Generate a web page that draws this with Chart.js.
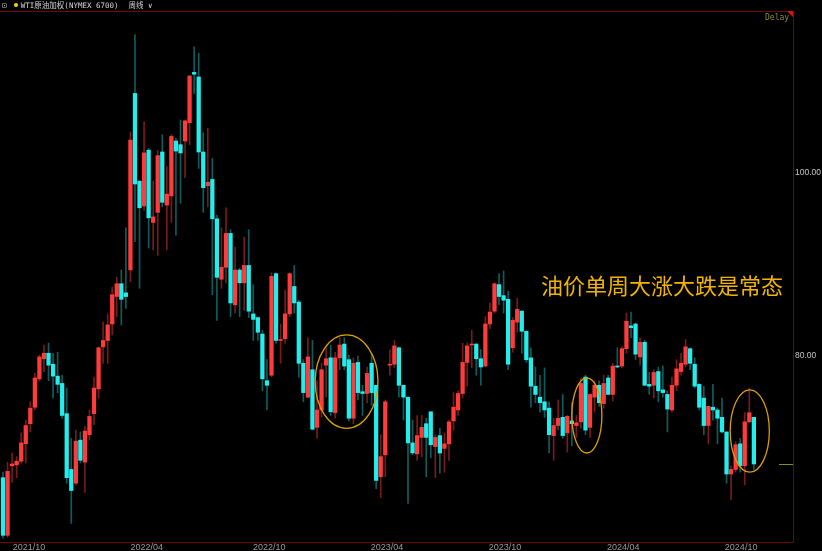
<!DOCTYPE html>
<html>
<head>
  <script src="https://cdn.jsdelivr.net/npm/chart.js@4.4.1/dist/chart.umd.min.js"></script>
  <style>
    body {
      margin: 0;
      background: #000;
    }
    .wrap {
      position: relative;
      width: 822px;
      height: 551px;
      background: #000;
      overflow: hidden;
    }
    .header {
      position: absolute;
      left: 2px;
      top: 0px;
      height: 11px;
      font-family: "DejaVu Sans Mono", "Noto Sans CJK SC", monospace;
      font-size: 7.5px;
      line-height: 11px;
      color: #d4d4d4;
      white-space: nowrap;
    }
    .header .icon { color: #bbb; margin-right: 7px; font-size: 8px; }
    .header .dot {
      display: inline-block;
      width: 4px;
      height: 4px;
      border-radius: 50%;
      background: #f2dc00;
      margin-right: 3px;
      vertical-align: 1px;
    }
    .header .period { margin-left: 10px; }
    .note {
      position: absolute;
      left: 541px;
      top: 272px;
      font-family: "Noto Sans CJK SC", sans-serif;
      font-size: 22px;
      line-height: 24px;
      color: #f2b400;
      white-space: nowrap;
    }
    .delay {
      position: absolute;
      left: 765px;
      top: 13px;
      font-family: "DejaVu Sans Mono", monospace;
      font-size: 8px;
      color: #8c8c2c;
    }
  </style>
</head>
<body>
  <div class="wrap">
    <canvas id="wtiChart"></canvas>
    <div class="header"><span class="icon">&#8865;</span><span class="dot"></span>WTI原油加权(NYMEX 6700)<span class="period">周线 &#8744;</span></div>
    <div class="delay">Delay</div>
    <div class="note">油价单周大涨大跌是常态</div>
  </div>

  <script>
    // weekly candles
    const weekOpen = [66.7, 60.4, 68.0, 68.1, 68.5, 70.4, 72.6, 74.4, 77.5, 79.7,
      80.3, 79.1, 77.8, 77.0, 73.7, 67.6, 66.1, 70.8, 68.4, 71.4,
      73.7, 76.4, 81.0, 81.7, 83.5, 86.5, 87.9, 86.9, 89.4, 108.7,
      99.1, 96.4, 102.5, 94.6, 95.7, 102.3, 96.5, 97.5, 103.5, 103.1,
      103.5, 105.5, 111.0, 110.5, 102.3, 98.6, 99.3, 95.0, 88.4, 89.7,
      93.4, 85.6, 89.4, 88.0, 89.9, 84.6, 84.2, 82.4, 77.3, 77.9,
      89.0, 81.7, 81.9, 84.6, 87.6, 85.9, 79.2, 75.5, 78.5, 72.2,
      74.1, 79.0, 79.8, 73.8, 79.8, 81.3, 79.6, 73.2, 79.3, 76.1,
      75.9, 79.2, 76.8, 66.8, 69.2, 79.0, 79.1, 80.9, 76.8, 75.5,
      70.5, 69.3, 71.1, 72.6, 73.9, 70.1, 71.3, 69.9, 70.4, 72.9,
      74.1, 75.9, 79.3, 81.2, 81.3, 79.7, 78.9, 83.5, 84.9, 87.8,
      86.6, 86.2, 80.9, 83.7, 84.9, 82.7, 79.8, 76.7, 75.5, 75.0,
      74.3, 71.3, 72.4, 73.3, 71.6, 72.9, 72.4, 72.8, 77.7, 72.2,
      75.5, 76.8, 74.8, 77.6, 75.8, 78.9, 78.9, 80.8, 83.3, 83.5,
      79.9, 81.5, 76.9, 76.8, 78.3, 76.3, 75.8, 74.1, 76.8, 78.3,
      79.1, 80.8, 79.1, 76.9, 75.4, 72.4, 74.4, 74.1, 73.3, 71.7,
      67.1, 67.6, 70.4, 68.0, 72.8, 73.3];
    const weekHigh = [67.3, 68.4, 69.4, 69.0, 71.6, 73.0, 75.0, 78.1, 80.1, 81.2,
      81.4, 80.3, 80.4, 77.9, 76.5, 71.0, 71.9, 71.7, 72.3, 74.1,
      77.7, 81.0, 83.7, 84.6, 87.5, 88.6, 89.4, 94.0, 104.5, 115.1,
      99.2, 105.6, 102.7, 99.1, 102.5, 104.2, 100.7, 104.2, 103.8, 105.8,
      105.8, 110.7, 113.8, 113.1, 104.4, 104.9, 101.6, 95.4, 94.0, 96.2,
      93.8, 91.9, 89.6, 93.0, 93.8, 87.8, 84.2, 82.8, 79.6, 89.1,
      89.1, 83.5, 87.2, 89.1, 89.9, 86.1, 79.6, 82.0, 81.7, 77.3,
      79.2, 80.9, 81.2, 80.4, 82.0, 82.0, 80.1, 79.8, 80.0, 76.8,
      78.8, 80.3, 76.8, 71.4, 75.2, 80.7, 81.7, 81.0, 76.8, 75.5,
      73.0, 73.5, 73.5, 73.2, 73.9, 71.4, 72.1, 71.6, 73.0, 76.0,
      76.2, 81.4, 81.4, 82.8, 81.4, 80.7, 84.3, 85.8, 88.0, 89.0,
      89.3, 87.1, 84.2, 86.3, 85.0, 82.8, 80.9, 78.8, 77.9, 78.7,
      75.0, 73.2, 75.2, 75.8, 73.5, 74.9, 73.5, 77.6, 77.9, 75.9,
      77.3, 77.3, 77.9, 77.9, 79.2, 80.9, 81.0, 84.7, 84.8, 83.6,
      82.0, 81.7, 78.2, 78.5, 78.8, 78.9, 76.2, 77.7, 79.6, 80.3,
      81.8, 80.9, 79.8, 77.0, 76.7, 74.5, 76.9, 74.3, 75.4, 71.7,
      68.0, 70.6, 71.0, 73.8, 76.5, 73.3];
    const weekLow = [60.1, 60.2, 66.2, 66.7, 68.3, 68.3, 71.7, 74.1, 77.3, 78.3,
      77.3, 75.4, 76.0, 73.2, 66.1, 61.7, 65.9, 68.3, 65.1, 70.8,
      72.5, 75.4, 79.2, 79.2, 82.3, 84.3, 83.4, 85.2, 88.1, 92.5,
      87.4, 95.9, 91.8, 91.6, 91.0, 96.3, 91.6, 94.6, 93.2, 96.7,
      99.5, 103.1, 108.7, 100.5, 95.7, 96.3, 86.7, 83.9, 87.4, 88.0,
      84.3, 84.7, 84.3, 85.0, 84.2, 81.7, 81.7, 76.2, 74.1, 77.7,
      81.4, 79.2, 81.4, 84.3, 84.7, 77.7, 75.0, 75.4, 71.9, 71.0,
      73.3, 75.5, 73.5, 73.2, 78.5, 78.5, 72.9, 72.6, 75.2, 73.5,
      74.9, 74.6, 65.5, 64.5, 66.8, 77.9, 78.7, 75.5, 73.0, 63.9,
      69.2, 68.6, 69.0, 66.8, 68.9, 66.7, 67.2, 67.3, 68.6, 71.9,
      73.5, 75.4, 76.7, 78.7, 77.9, 76.8, 78.8, 83.0, 84.7, 85.6,
      84.7, 78.5, 80.4, 82.6, 80.3, 79.3, 74.4, 74.9, 73.9, 73.3,
      69.4, 68.6, 71.9, 71.0, 69.5, 70.2, 71.1, 72.1, 71.4, 71.1,
      73.9, 74.5, 74.3, 75.8, 75.1, 78.7, 78.7, 80.3, 82.0, 79.6,
      79.0, 76.8, 75.8, 75.4, 75.0, 75.5, 71.7, 73.9, 76.2, 77.9,
      78.8, 78.5, 76.5, 74.1, 71.4, 70.4, 73.0, 70.4, 71.6, 66.1,
      64.3, 67.3, 67.3, 65.9, 72.7, 67.6];
    const weekClose = [60.4, 67.4, 68.2, 68.5, 70.5, 72.4, 74.3, 77.6, 79.9, 80.3,
      79.0, 77.8, 76.9, 73.5, 66.7, 65.3, 70.7, 68.6, 71.8, 73.4,
      76.5, 80.9, 81.7, 83.4, 86.7, 87.9, 86.2, 86.5, 103.6, 98.8,
      96.2, 102.2, 95.1, 95.2, 101.9, 96.8, 97.7, 104.0, 102.4, 102.2,
      105.7, 110.6, 110.8, 102.3, 98.4, 99.0, 95.0, 88.6, 89.7, 93.4,
      85.8, 89.4, 88.0, 89.9, 84.9, 84.0, 82.6, 77.5, 76.8, 88.7,
      81.7, 81.8, 84.6, 89.0, 85.8, 79.2, 76.0, 79.9, 72.0, 74.1,
      78.5, 79.7, 73.9, 79.8, 81.2, 78.9, 73.2, 79.2, 76.0, 75.9,
      78.1, 76.0, 66.4, 69.0, 75.0, 79.1, 81.1, 76.8, 75.5, 70.5,
      69.4, 71.3, 72.2, 71.1, 70.3, 71.1, 69.4, 70.4, 72.8, 74.4,
      75.9, 79.3, 81.1, 81.3, 79.7, 78.8, 83.5, 84.8, 87.9, 86.5,
      86.1, 79.1, 83.9, 85.1, 82.7, 79.6, 76.7, 75.8, 74.9, 74.1,
      71.4, 72.4, 73.2, 71.3, 73.4, 72.6, 72.7, 77.0, 71.9, 75.8,
      76.8, 74.9, 77.0, 75.8, 78.9, 78.8, 80.8, 83.8, 83.1, 80.2,
      81.5, 76.8, 76.7, 78.2, 76.2, 76.0, 74.2, 76.8, 78.6, 79.2,
      81.0, 79.2, 76.7, 74.4, 72.4, 74.5, 74.1, 73.2, 71.7, 67.1,
      67.6, 70.3, 68.0, 72.8, 73.8, 68.2];

    // x axis: label positions in week index
    const xTickWeeks = [5.7, 31.6, 58.5, 84.4, 110.3, 136.3, 162.2];
    const xTickLabels = ['2021/10', '2022/04', '2022/10', '2023/04', '2023/10', '2024/04', '2024/10'];
    const yTickValues = [80, 100];

    // circled weeks: [first week, last week, low price, high price]
    const circles = [
      [68.6, 82.4, 72.1, 82.3],
      [125.0, 131.6, 69.4, 77.6],
      [159.8, 168.4, 67.3, 76.3]
    ];

    const UP = '#ff3b3b', DOWN = '#22eeee';
    const UP_WICK = '#7a1a1a', DOWN_WICK = '#0c5e5e';
    const isUp = i => weekClose[i] >= weekOpen[i];

    const bodies = weekOpen.map((o, i) => ({x: i, y: [o, weekClose[i]]}));
    const wicks = weekOpen.map((o, i) => ({x: i, y: [weekLow[i], weekHigh[i]]}));

    const overlay = {
      id: 'overlay',
      afterDatasetsDraw(chart) {
        const {ctx, chartArea: a, scales: {x, y}} = chart;
        ctx.save();
        // circles
        ctx.strokeStyle = '#d9a000';
        ctx.lineWidth = 1.3;
        circles.forEach(([w0, w1, lo, hi]) => {
          const x0 = x.getPixelForValue(w0), x1 = x.getPixelForValue(w1);
          const y0 = y.getPixelForValue(hi), y1 = y.getPixelForValue(lo);
          ctx.beginPath();
          ctx.ellipse((x0 + x1) / 2, (y0 + y1) / 2, (x1 - x0) / 2, (y1 - y0) / 2, 0, 0, Math.PI * 2);
          ctx.stroke();
        });
        // frame
        ctx.strokeStyle = '#6a0a0a';
        ctx.lineWidth = 1;
        ctx.beginPath();
        ctx.moveTo(0, a.top + 0.5);
        ctx.lineTo(a.right + 0.5, a.top + 0.5);
        ctx.lineTo(a.right + 0.5, a.bottom + 0.5);
        ctx.lineTo(0, a.bottom + 0.5);
        ctx.stroke();
        // corner marker
        ctx.fillStyle = '#e01010';
        ctx.beginPath();
        ctx.moveTo(a.right - 6, a.top);
        ctx.lineTo(a.right, a.top);
        ctx.lineTo(a.right, a.top + 6);
        ctx.closePath();
        ctx.fill();
        // last price line
        const ly = Math.round(y.getPixelForValue(weekClose[weekClose.length - 1])) + 0.5;
        ctx.strokeStyle = '#8a8a1a';
        ctx.beginPath();
        ctx.moveTo(a.right - 14, ly);
        ctx.lineTo(a.right, ly);
        ctx.stroke();
        ctx.restore();
      }
    };

    const ctx = document.getElementById('wtiChart').getContext('2d');
    new Chart(ctx, {
      type: 'bar',
      data: {
        datasets: [
          {
            data: bodies,
            grouped: false,
            barThickness: 3.6,
            minBarLength: 1,
            borderWidth: 0,
            backgroundColor: c => isUp(c.dataIndex) ? UP : DOWN
          },
          {
            data: wicks,
            grouped: false,
            barThickness: 1,
            borderWidth: 0,
            backgroundColor: c => isUp(c.dataIndex) ? UP_WICK : DOWN_WICK
          }
        ]
      },
      options: {
        responsive: true,
        maintainAspectRatio: false,
        animation: false,
        devicePixelRatio: 1,
        layout: {padding: {top: 11, left: 0, right: 0, bottom: 0}},
        plugins: {
          legend: {display: false},
          tooltip: {enabled: false}
        },
        scales: {
          x: {
            type: 'linear',
            offset: false,
            min: -0.66,
            max: 173.6,
            grid: {display: false, drawTicks: false, offset: false},
            border: {display: false},
            afterBuildTicks: s => { s.ticks = xTickWeeks.map(v => ({value: v})); },
            afterFit: s => { s.height = 9; },
            ticks: {
              padding: 0,
              maxRotation: 0,
              autoSkip: false,
              color: '#9a9a9a',
              font: {family: 'Liberation Sans', size: 9},
              callback: (v, i) => xTickLabels[i]
            }
          },
          y: {
            position: 'right',
            min: 59.67,
            max: 117.71,
            grid: {display: false, drawTicks: false},
            border: {display: false},
            afterBuildTicks: s => { s.ticks = yTickValues.map(v => ({value: v})); },
            afterFit: s => { s.width = 29; },
            ticks: {
              padding: 2,
              color: '#c4c4c4',
              font: {family: 'Liberation Sans', size: 8.5},
              callback: v => v.toFixed(2)
            }
          }
        }
      },
      plugins: [overlay]
    });
  </script>
</body>
</html>
